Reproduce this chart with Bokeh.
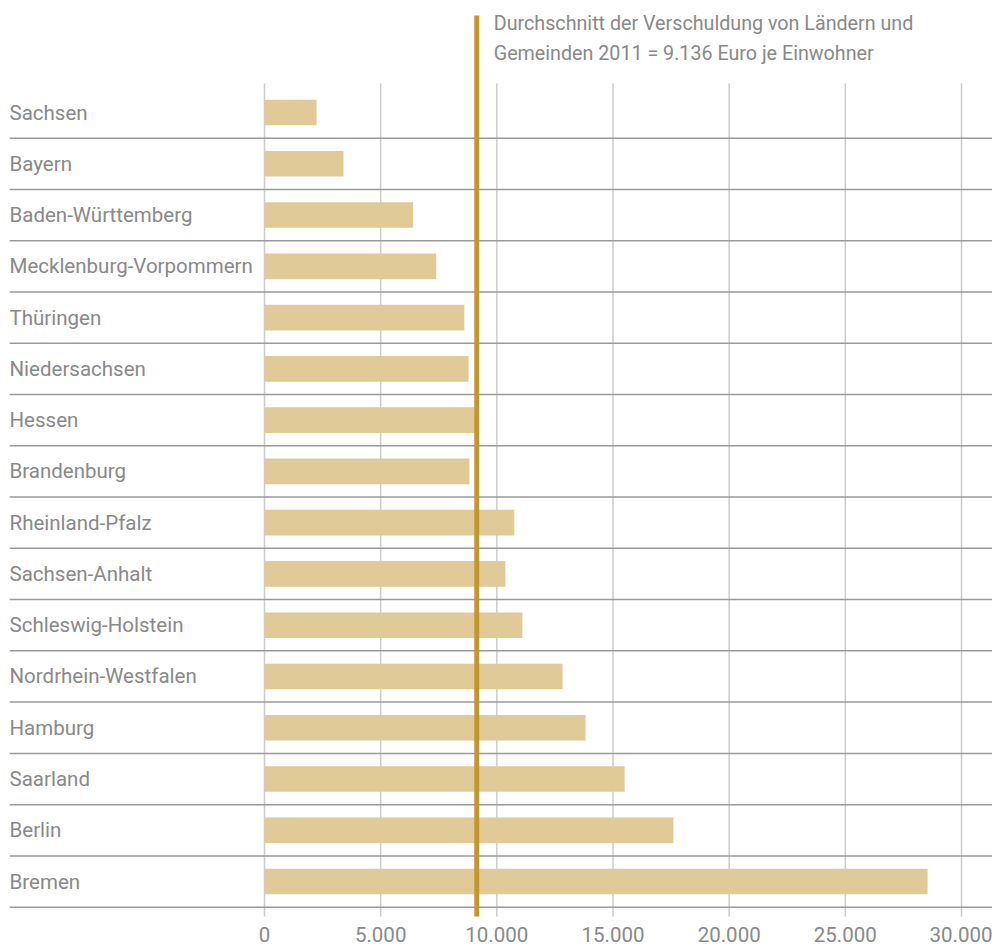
from bokeh.plotting import figure
from bokeh.models import Range1d, LinearAxis, FixedTicker
from bokeh.core.properties import value
from bokeh.embed import file_html
from bokeh.resources import INLINE

# ---------------- data ----------------
states = ["Sachsen", "Bayern", "Baden-Württemberg", "Mecklenburg-Vorpommern",
          "Thüringen", "Niedersachsen", "Hessen", "Brandenburg",
          "Rheinland-Pfalz", "Sachsen-Anhalt", "Schleswig-Holstein",
          "Nordrhein-Westfalen", "Hamburg", "Saarland", "Berlin", "Bremen"]
debt = [2240, 3400, 6400, 7390, 8600, 8780, 9100, 8820,
        10750, 10370, 11100, 12830, 13820, 15500, 17600, 28540]
average = 9136
ticks = [0, 5000, 10000, 15000, 20000, 25000, 30000]
tick_labels = ["0", "5.000", "10.000", "15.000", "20.000", "25.000", "30.000"]
note_lines = ["Durchschnitt der Verschuldung von Ländern und",
              "Gemeinden 2011 = 9.136 Euro je Einwohner"]

# ---------------- layout constants (pixels) ----------------
W, H = 992, 946
FONT = "Roboto"
TEXT = "#898989"
BAR = "#E0CA98"
GOLD = "#C4962F"
SEP = "#9A9A9A"
GRID = "#CCCCCC"

frame_left = 9
px_per_unit = 697 / 30000.0     # x scale
zero_px = 255                   # distance of x=0 from frame left
row_px = 51.27                  # row spacing
first_row_px = 112              # first row centre from canvas top

x_start = -zero_px / px_per_unit
x_end = (W - frame_left - zero_px) / px_per_unit
y_top = -first_row_px / row_px
y_bottom = (H - first_row_px) / row_px

grid_top = (83 - first_row_px) / row_px
grid_bottom = (916 - first_row_px) / row_px
line_top = (15 - first_row_px) / row_px
note_y = [(23 - first_row_px) / row_px, (53 - first_row_px) / row_px]

idx = list(range(len(states)))

p = figure(width=W, height=H, output_backend="svg", toolbar_location=None,
           x_range=Range1d(x_start, x_end), y_range=Range1d(y_bottom, y_top),
           x_axis_type=None, y_axis_type=None,
           min_border_left=frame_left, min_border_right=0, min_border_top=0,
           min_border_bottom=0)
p.outline_line_color = None
p.background_fill_color = "white"
p.border_fill_color = "white"
p.xgrid.visible = False
p.ygrid.visible = False

# vertical grid lines
p.segment(x0=ticks, y0=[grid_top] * len(ticks), x1=ticks,
          y1=[grid_bottom] * len(ticks), line_color=GRID, line_width=1.5)

# row separators
sep_y = [i + 0.5 for i in idx]
p.segment(x0=[x_start] * len(sep_y), y0=sep_y, x1=[x_end] * len(sep_y),
          y1=sep_y, line_color=SEP, line_width=1.5)

# bars
p.hbar(y=idx, left=0, right=debt, height=0.5, fill_color=BAR, line_color=None)

# average line
p.segment(x0=[average], y0=[line_top], x1=[average], y1=[grid_bottom],
          line_color=GOLD, line_width=5)

# annotation text
p.text(x=[average] * 2, y=note_y, text=note_lines, x_offset=17,
       text_font=value(FONT), text_font_size="19.7px", text_color=TEXT,
       text_baseline="alphabetic", text_align="left")

# state labels
p.text(x=[x_start] * len(states), y=idx, text=states, x_offset=0, y_offset=0,
       text_font=value(FONT), text_font_size="20.5px", text_color=TEXT,
       text_baseline="alphabetic", text_align="left")

# x axis
xaxis = LinearAxis(fixed_location=grid_bottom,
                   ticker=FixedTicker(ticks=ticks),
                   major_label_overrides={t: l for t, l in zip(ticks, tick_labels)})
xaxis.axis_line_color = None
xaxis.major_tick_line_color = None
xaxis.minor_tick_line_color = None
xaxis.major_tick_in = 0
xaxis.major_tick_out = 0
xaxis.major_label_standoff = 10
xaxis.major_label_text_font = FONT
xaxis.major_label_text_font_size = "20.5px"
xaxis.major_label_text_color = TEXT
p.add_layout(xaxis, "below")

open("out.html", "w").write(file_html(p, INLINE))
